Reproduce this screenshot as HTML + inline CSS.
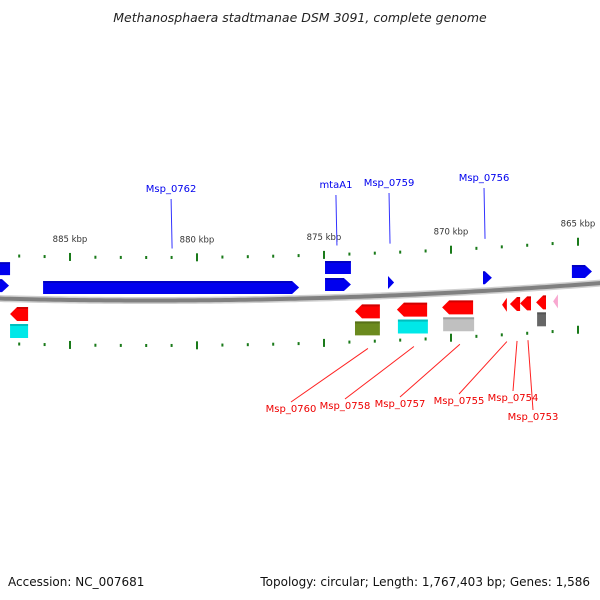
<!DOCTYPE html>
<html><head><meta charset="utf-8"><style>
html,body{margin:0;padding:0;background:#fff;width:600px;height:600px;overflow:hidden}
svg{display:block;font-family:"DejaVu Sans","Liberation Sans",sans-serif}
</style></head><body>
<svg id="map" width="600" height="600" viewBox="0 0 600 600">
<text x="300" y="22" text-anchor="middle" font-size="12.5" font-style="italic" fill="#222">Methanosphaera stadtmanae DSM 3091, complete genome</text>
<text x="8" y="586" font-size="12" fill="#111">Accession: NC_007681</text>
<text x="590" y="586" text-anchor="end" font-size="12" fill="#111">Topology: circular; Length: 1,767,403 bp; Genes: 1,586</text>
<g id="g"></g>
</svg>
<script>
// data (kbp positions)
const tickStart = 887, tickEnd = 864;
const majorTicks = [885, 880, 875, 870, 865];
const tickLabels = ["885 kbp","880 kbp","875 kbp","870 kbp","865 kbp"];
// forward genes
const fwdStart = [887.95, 886.06, 874.96, 872.48, 868.74, 865.24, 887.95, 874.96];
const fwdEnd   = [887.40, 875.98, 873.94, 872.24, 868.39, 864.45, 887.36, 873.94];
const fwdTrack = [1, 1, 1, 1, 1, 1, 2, 2];
const fwdArrow = [1, 1, 1, 1, 1, 1, 0, 0];
// reverse genes track 1
const revStart = [887.36, 873.78, 872.13, 870.35, 867.99, 867.68, 867.28, 866.65, 865.98];
const revEnd   = [886.65, 872.80, 870.94, 869.13, 867.80, 867.28, 866.85, 866.26, 865.79];
const revColor = ["#f00","#f00","#f00","#f00","#f00","#f00","#f00","#f00","#f8a8d0"];
// reverse track 2 (coloured boxes)
const boxStart = [887.36, 873.78, 872.09, 870.31, 866.61];
const boxEnd   = [886.65, 872.80, 870.91, 869.09, 866.26];
const boxColor = ["#00e8e8","#6b8a1e","#00e8e8","#c0c0c0","#666"];
// labels
const topLabels = ["Msp_0762","mtaA1","Msp_0759","Msp_0756"];
const topLabelKbp = [881.02, 874.53, 872.44, 868.70];
const botLabels = ["Msp_0760","Msp_0758","Msp_0757","Msp_0755","Msp_0754","Msp_0753"];
const botLabelKbp = [873.27, 871.46, 869.65, 867.80, 867.40, 866.97];

const X = k => 70 + (885 - k) * 25.4;
const base = x => 300.5 - 8.6e-5 * (x - 150) * (x - 150);
const NS = "http://www.w3.org/2000/svg";
const G = document.getElementById('g');
function mk(tag, attrs, name){
  const e = document.createElementNS(NS, tag);
  for (const k in attrs) e.setAttribute(k, attrs[k]);
  
  
  G.appendChild(e); return e;
}
let d = "";
for (let x = -5; x <= 605; x += 5) d += (d ? "L" : "M") + x + "," + base(x).toFixed(2);
mk('path', {d: d, stroke: "#d0d0d0", "stroke-width": 7, fill: "none"}, 'backbone-shadow');
mk('path', {d: d, stroke: "#808080", "stroke-width": 4, fill: "none"}, 'backbone');
for (let k = tickStart; k >= tickEnd; k--) {
  const x = X(k), major = majorTicks.includes(k);
  [-43, 45].forEach(off => {
    const y = base(x) + off;
    mk('rect', {x: x - 1, y: major ? y - 4 : y - 1.5, width: 2, height: major ? 8 : 3, fill: "#1a7a1a"}, major ? 'major-tick' : 'minor-tick');
  });
}
majorTicks.forEach((k, i) => {
  const x = X(k);
  const t = mk('text', {x: x, y: base(x) - 58, "text-anchor": "middle", "font-size": 8.5, fill: "#333"}, 'tick-label');
  t.textContent = tickLabels[i];
});
function gene(x1, x2, cy, h, color, arrow, dir, name){
  const a = Math.min(x1, x2), b = Math.max(x1, x2);
  const hw = Math.min(7, (b - a));
  let pts;
  if (!arrow) pts = [[a,cy-h/2],[b,cy-h/2],[b,cy+h/2],[a,cy+h/2]];
  else if (dir > 0) pts = [[a,cy-h/2],[b-hw,cy-h/2],[b,cy],[b-hw,cy+h/2],[a,cy+h/2]];
  else pts = [[b,cy-h/2],[a+hw,cy-h/2],[a,cy],[a+hw,cy+h/2],[b,cy+h/2]];
  mk('polygon', {points: pts.map(p => p.join(",")).join(" "), fill: color}, name);
  mk('rect', {x: a + (arrow && dir < 0 ? hw : 0), y: cy - h/2, width: Math.max(0, b - a - (arrow ? hw : 0)), height: 2, fill: "#000", opacity: 0.18}, name + '-shade');
}
fwdStart.forEach((s, i) => {
  const x1 = X(s), x2 = X(fwdEnd[i]);
  const cy = base((x1 + x2) / 2) + (fwdTrack[i] === 1 ? -13 : -30);
  gene(x1, x2, cy, 13, "#0000ee", fwdArrow[i], 1, 'forward-gene');
});
revStart.forEach((s, i) => {
  const x1 = X(s), x2 = X(revEnd[i]);
  const cy = base((x1 + x2) / 2) + 15;
  gene(x1, x2, cy, 14, revColor[i], 1, -1, 'reverse-gene');
});
boxStart.forEach((s, i) => {
  const x1 = X(s), x2 = X(boxEnd[i]);
  const cy = base((x1 + x2) / 2) + 32;
  gene(x1, x2, cy, 14, boxColor[i], 0, 1, 'feature-box');
});
const topTextY = [192, 188, 186, 181];
topLabels.forEach((l, i) => {
  const x = X(topLabelKbp[i]);
  mk('line', {x1: x, y1: topTextY[i] + 7, x2: x + 1, y2: base(x) - 52, stroke: "#3333ff", "stroke-width": 1}, 'label-line');
  const t = mk('text', {x: x, y: topTextY[i], "text-anchor": "middle", "font-size": 10, fill: "#0000ee"}, 'gene-label');
  t.textContent = l;
});
const botTextX = [291, 345, 400, 459, 513, 533];
const botTextY = [412, 409, 407, 404, 401, 420];
botLabels.forEach((l, i) => {
  const x = X(botLabelKbp[i]);
  mk('line', {x1: x, y1: base(x) + 52, x2: botTextX[i], y2: botTextY[i] - 10, stroke: "#ff2222", "stroke-width": 1}, 'label-line');
  const t = mk('text', {x: botTextX[i], y: botTextY[i], "text-anchor": "middle", "font-size": 10, fill: "#ee0000"}, 'gene-label');
  t.textContent = l;
});
</script>
</body></html>
